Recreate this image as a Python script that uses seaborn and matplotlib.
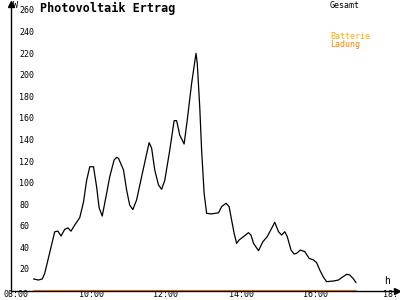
import matplotlib
matplotlib.use("Agg")
import matplotlib.pyplot as plt
import seaborn as sns
import pandas as pd

times = ["08:28", "08:36", "08:42", "08:46", "09:02", "09:07", "09:12", "09:18", "09:23", "09:28",
         "09:34", "09:42", "09:48", "09:53", "09:58", "10:04", "10:09", "10:13", "10:18", "10:25",
         "10:30", "10:37", "10:41", "10:44", "10:52", "10:57", "11:02", "11:07", "11:13", "11:21",
         "11:28", "11:33", "11:37", "11:42", "11:48", "11:53", "11:58", "12:06", "12:13", "12:17",
         "12:22", "12:29", "12:34", "12:41", "12:48", "12:50", "12:54", "12:57", "13:01", "13:05",
         "13:13", "13:24", "13:29", "13:36", "13:41", "13:45", "13:49", "13:53", "13:57", "14:04",
         "14:12", "14:16", "14:20", "14:28", "14:35", "14:42", "14:54", "15:00", "15:05", "15:10",
         "15:14", "15:20", "15:25", "15:29", "15:35", "15:42", "15:49", "15:56", "16:01", "16:06",
         "16:12", "16:17", "16:28", "16:36", "16:41", "16:49", "16:54", "17:00", "17:04"]
gesamt = [10.7, 9.7, 10.7, 16, 54.5, 55, 50.5, 56.7, 58, 55,
          60.7, 67.5, 82, 102, 114.7, 114.7, 96, 76.7, 69, 90,
          105.5, 121, 123.4, 122.5, 111.7, 93, 79, 75, 84, 105.5,
          124, 137, 132, 111.7, 97.8, 93.8, 102, 130, 157.4, 157.4,
          144, 135.8, 158, 192, 219.8, 210.6, 170, 130, 90, 71.5,
          71, 72, 77.7, 80.8, 77.7, 65.3, 53, 43.7, 46.8, 49.9,
          53.6, 51.4, 43.7, 36.9, 45.2, 49.9, 63.2, 54.5, 51.4, 54.5,
          50, 37.5, 33.8, 34.5, 37.5, 36, 29.8, 28.3, 25.8, 19,
          12.2, 8.2, 8.8, 9.7, 11.9, 15, 14.4, 10.7, 7.2]
ladung_times = ["08:28", "17:04"]
ladung = [0, 0]

y_ticks = [20, 40, 60, 80, 100, 120, 140, 160, 180, 200, 220, 240, 260]
x_tick_hours = [8, 10, 12, 14, 16, 18]
x_tick_labels = ["08:00", "10:00", "12:00", "14:00", "16:00", "18:"]


def to_hours(s):
    h, m = s.split(":")
    return int(h) + int(m) / 60.0


df = pd.DataFrame({"t": [to_hours(s) for s in times], "v": gesamt})
df_l = pd.DataFrame({"t": [to_hours(s) for s in ladung_times], "v": ladung})

sns.set_theme(style="white")
plt.rcParams["font.family"] = ["DejaVu Sans Mono"]

fig = plt.figure(figsize=(4, 3), dpi=100)
ax = fig.add_axes([11 / 400, 1 - 290.5 / 300, 386 / 400, 287 / 300])

sns.lineplot(data=df, x="t", y="v", ax=ax, color="black", linewidth=0.9, estimator=None)
sns.lineplot(data=df_l, x="t", y="v", ax=ax, color="#ff8000", linewidth=1.5, estimator=None)

x0 = 8 - 5 / 37.5
x1 = 8 + 381 / 37.5
ax.set_xlim(x0, x1)
ax.set_ylim(0, 287 / 1.079)

ax.set_xlabel("")
ax.set_ylabel("")
for s in ["top", "right"]:
    ax.spines[s].set_visible(False)
for s in ["left", "bottom"]:
    ax.spines[s].set_color("black")
    ax.spines[s].set_linewidth(1.0)

ax.set_yticks(y_ticks)
ax.set_yticklabels([str(v) for v in y_ticks])
ax.set_xticks(x_tick_hours)
ax.set_xticklabels(x_tick_labels)
ax.tick_params(axis="both", direction="inout", length=6, width=1, color="black",
               labelsize=6, labelcolor="black")
ax.tick_params(axis="y", pad=-9)
for lbl in ax.get_yticklabels():
    lbl.set_horizontalalignment("left")
ax.tick_params(axis="x", pad=-3.2)

# arrow heads on axes
ax.plot(1, 0, ">", transform=ax.transAxes, color="black", markersize=4, clip_on=False)
ax.plot(0, 1, "^", transform=ax.transAxes, color="black", markersize=4, clip_on=False)

fig.text(13 / 400, 1 - 1 / 300, "W", fontsize=6, va="top", ha="left", color="black")
fig.text(384 / 400, 1 - 276 / 300, "h", fontsize=7, va="top", ha="left", color="black")
fig.text(40 / 400, 1 - 2 / 300, "Photovoltaik Ertrag", fontsize=8.5, fontweight="bold",
         va="top", ha="left", color="black")
fig.text(330 / 400, 1 - 1 / 300, "Gesamt", fontsize=6, va="top", ha="left", color="black")
fig.text(330 / 400, 1 - 32 / 300, "Batterie", fontsize=6, va="top", ha="left", color="#ffaa00")
fig.text(330 / 400, 1 - 40 / 300, "Ladung", fontsize=6, va="top", ha="left", color="#ff8000")

fig.savefig("out.png", dpi=100, facecolor="white")
